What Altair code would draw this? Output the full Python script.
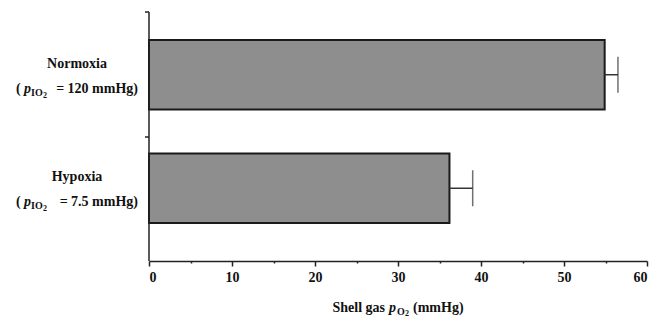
import altair as alt
import pandas as pd

conditions = ["Normoxia", "Hypoxia"]
mean_po2 = [54.9, 36.2]
err_hi = [56.5, 39.0]
inspired = ["= 120 mmHg)", "=  7.5 mmHg)"]
x_ticks = [0, 5, 10, 15, 20, 25, 30, 35, 40, 45, 50, 55, 60]

df = pd.DataFrame({"cond": conditions, "val": mean_po2, "hi": err_hi, "rest": inspired})
one = pd.DataFrame({"k": [0]})

FONT = "Liberation Serif"
W, H = 498, 249

y_enc = alt.Y("cond:N", sort=conditions, axis=None,
              scale=alt.Scale(range=[28, 211], paddingInner=0.388, paddingOuter=0))

base = alt.Chart(df)

bars = base.mark_bar(fill="#8e8e8e", stroke="#1a1a1a", strokeWidth=2).encode(
    x=alt.X("val:Q", scale=alt.Scale(domain=[0, 60], nice=False),
            axis=alt.Axis(values=x_ticks, title=None,
                          labelExpr="datum.value % 10 === 0 ? datum.label : ''",
                          tickSize={"condition": {"test": "datum.value % 10 === 0", "value": 5}, "value": 2},
                          domainColor="#222", domainWidth=1.5, tickColor="#222", tickWidth=1.5,
                          labelFont=FONT, labelFontSize=14, labelFontWeight="bold",
                          labelColor="#111", labelPadding=4, grid=False)),
    y=y_enc,
)

err = base.mark_rule(color="#333", strokeWidth=1.5).encode(
    x="val:Q", x2="hi:Q", y=y_enc)
cap = base.mark_tick(color="#333", thickness=1.5, size=36).encode(
    x="hi:Q", y=y_enc)

def t(text_enc, x, dy, size=14, style="normal", align="left"):
    return base.mark_text(font=FONT, fontSize=size, fontWeight="bold", fontStyle=style,
                          align=align, baseline="middle", dy=dy, color="#111").encode(
        text=text_enc, x=alt.value(x), y=y_enc)

names = t("cond:N", -72, -11, align="center")
paren = t(alt.value("("), -133, 14)
p_lbl = t(alt.value("p"), -125, 14, style="italic")
io = t(alt.value("IO"), -118, 18, size=10)
two = t(alt.value("2"), -106, 21, size=8)
rest = t("rest:N", -11, 14, align="right")

def tt(text, x, dy=0, size=14, style="normal", align="left"):
    return alt.Chart(one).mark_text(font=FONT, fontSize=size, fontWeight="bold", fontStyle=style,
                                    align=align, baseline="middle", dy=dy, color="#111").encode(
        text=alt.value(text), x=alt.value(x), y=alt.value(H + 47))

xt1 = tt("Shell gas", 236, align="right")
xt2 = tt("p", 240, style="italic")
xt3 = tt("O", 248, dy=4, size=10)
xt4 = tt("2", 256, dy=6, size=8)
xt5 = tt("(mmHg)", 264)

yaxis = alt.Chart(one).mark_rule(color="#222", strokeWidth=1.5).encode(
    x=alt.value(0), y=alt.value(0), y2=alt.value(H))
ytick1 = alt.Chart(one).mark_rule(color="#222", strokeWidth=1.5).encode(
    x=alt.value(-4), x2=alt.value(0), y=alt.value(0))
ytick2 = alt.Chart(one).mark_rule(color="#222", strokeWidth=1.5).encode(
    x=alt.value(-4), x2=alt.value(0), y=alt.value(125))

chart = alt.layer(bars, err, cap, names, paren, p_lbl, io, two, rest,
                  xt1, xt2, xt3, xt4, xt5, yaxis, ytick1, ytick2).properties(
    width=W, height=H,
    padding={"left": 149, "top": 12, "right": 6, "bottom": 59},
    autosize=alt.AutoSizeParams(type="none"),
    background="white",
).configure_view(stroke=None)

chart.save("out.html", embed_options={"renderer": "svg", "actions": False})
